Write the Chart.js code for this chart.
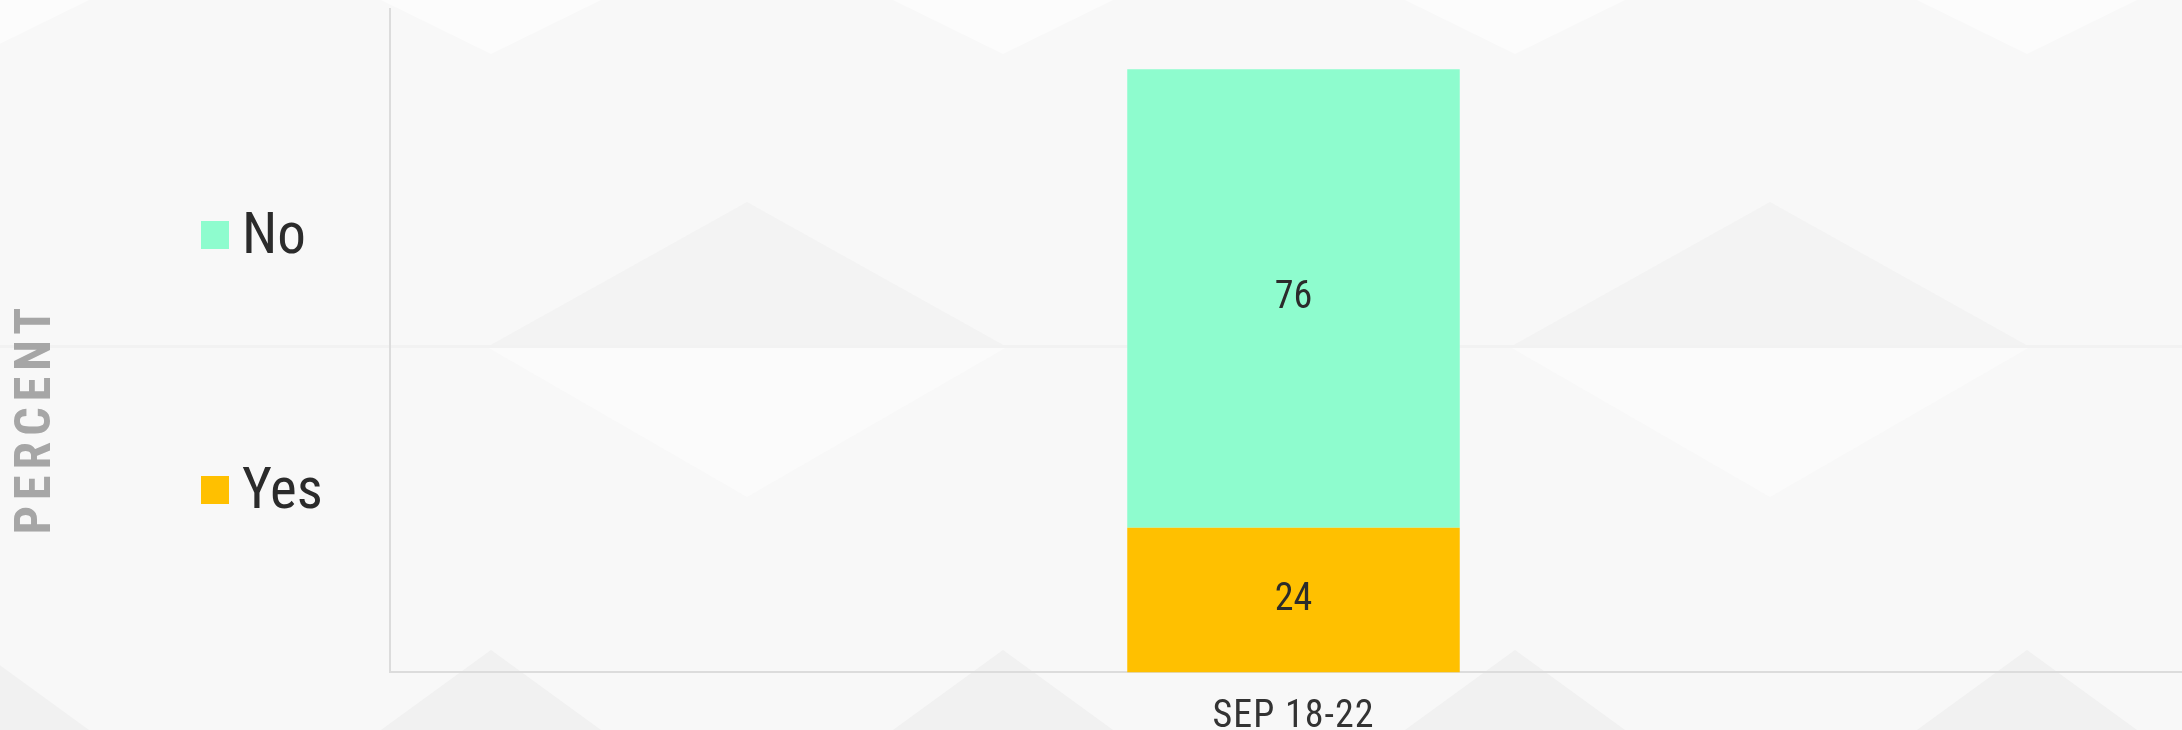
<!DOCTYPE html>
<html>
<head>
<meta charset="utf-8">
<title>SEP 18-22</title>
<script src="https://cdn.jsdelivr.net/npm/chart.js@4.4.1/dist/chart.umd.min.js"></script>
<style>
  html, body { margin: 0; padding: 0; background: #f8f8f8; overflow: hidden; }
  #frame { width: 2182px; height: 730px; position: relative; overflow: hidden; }
  #wrap { width: 2197px; height: 762px; position: absolute; left: 0; top: 0; }
</style>
</head>
<body>
<div id="frame"><div id="wrap"><canvas id="chart"></canvas></div></div>
<script>
// data
const categories = ['SEP 18-22'];
const yesValues = [24];
const noValues = [76];
const seriesNames = ['Yes', 'No'];
const axisTitle = 'PERCENT';

const FONT = "'Liberation Sans Narrow', 'Roboto Condensed', 'DejaVu Sans Condensed', 'Liberation Sans', sans-serif";
const YES_COLOR = '#ffc000';
const NO_COLOR = '#8efcce';
const TEXT = '#2b2b2b';

// light low-poly backdrop
const backdrop = {
  id: 'backdrop',
  beforeDraw(chart) {
    const {ctx, width, height} = chart;
    const tri = (pts, color) => {
      ctx.beginPath();
      ctx.moveTo(pts[0][0], pts[0][1]);
      ctx.lineTo(pts[1][0], pts[1][1]);
      ctx.lineTo(pts[2][0], pts[2][1]);
      ctx.closePath();
      ctx.fillStyle = color;
      ctx.fill();
    };
    ctx.save();
    ctx.fillStyle = '#f8f8f8';
    ctx.fillRect(0, 0, width, height);
    for (let x = -21; x < width + 512; x += 512) {
      tri([[x - 110, 0], [x + 110, 0], [x, 54]], '#fcfcfc');
      tri([[x - 110, 730], [x + 110, 730], [x, 650]], '#f1f1f1');
    }
    for (let x = -276; x < width + 1023; x += 1023) {
      tri([[x - 260, 347], [x + 260, 347], [x, 202]], '#f3f3f3');
      tri([[x - 260, 347], [x + 260, 347], [x, 497]], '#fbfbfb');
    }
    ctx.fillStyle = '#f2f2f2';
    ctx.fillRect(0, 345, width, 3);
    ctx.restore();
    // spaced out axis label
    ctx.letterSpacing = '1px';
  },
  beforeDatasetsDraw(chart) {
    chart.ctx.letterSpacing = '0px';
  }
};

// numbers in the middle of each segment
const segmentLabels = {
  id: 'segmentLabels',
  afterDatasetsDraw(chart) {
    const ctx = chart.ctx;
    ctx.save();
    ctx.font = `38px ${FONT}`;
    ctx.fillStyle = TEXT;
    ctx.textAlign = 'center';
    ctx.textBaseline = 'middle';
    chart.data.datasets.forEach((ds, i) => {
      chart.getDatasetMeta(i).data.forEach((bar, j) => {
        ctx.fillText(String(ds.data[j]), bar.x, (bar.y + bar.base) / 2);
      });
    });
    ctx.restore();
  }
};

// legend on the left, "No" above "Yes", widely spaced
const sideLegend = {
  id: 'sideLegend',
  afterDraw(chart) {
    const {ctx, chartArea} = chart;
    const rows = [chartArea.top + 226, chartArea.top + 481];
    ctx.save();
    ctx.font = `57px ${FONT}`;
    ctx.textBaseline = 'middle';
    chart.data.datasets.slice().reverse().forEach((ds, i) => {
      const cy = rows[i];
      ctx.fillStyle = ds.backgroundColor;
      ctx.fillRect(chartArea.left - 189, cy - 14, 28, 28);
      ctx.fillStyle = TEXT;
      ctx.fillText(ds.label, chartArea.left - 148, cy + 4);
    });

    // rotated y title
    ctx.translate(37, chartArea.top + 412);
    ctx.rotate(-Math.PI / 2);
    ctx.font = `bold 50px ${FONT}`;
    ctx.letterSpacing = '6px';
    ctx.fillStyle = '#a6a6a6';
    ctx.textAlign = 'center';
    ctx.fillText(axisTitle, 3, 0);
    ctx.restore();
  }
};

new Chart(document.getElementById('chart'), {
  type: 'bar',
  data: {
    labels: categories,
    datasets: [
      { label: seriesNames[0], data: yesValues, backgroundColor: YES_COLOR },
      { label: seriesNames[1], data: noValues, backgroundColor: NO_COLOR }
    ]
  },
  options: {
    responsive: true,
    maintainAspectRatio: false,
    animation: false,
    layout: { padding: { left: 390, top: 9, right: 0, bottom: 0 } },
    datasets: {
      bar: { barPercentage: 0.184, categoryPercentage: 1, borderWidth: 0 }
    },
    plugins: {
      legend: { display: false },
      tooltip: { enabled: false }
    },
    scales: {
      x: {
        stacked: true,
        grid: { display: false, drawTicks: false },
        border: { display: true, color: '#dcdcdc', width: 2 },
        ticks: { color: '#333333', padding: 22, font: { family: FONT, size: 38 } }
      },
      y: {
        stacked: true,
        min: 0,
        max: 110,
        grid: { display: false, drawTicks: false },
        border: { display: true, color: '#dcdcdc', width: 2 },
        ticks: { display: false }
      }
    }
  },
  plugins: [backdrop, segmentLabels, sideLegend]
});
</script>
</body>
</html>
